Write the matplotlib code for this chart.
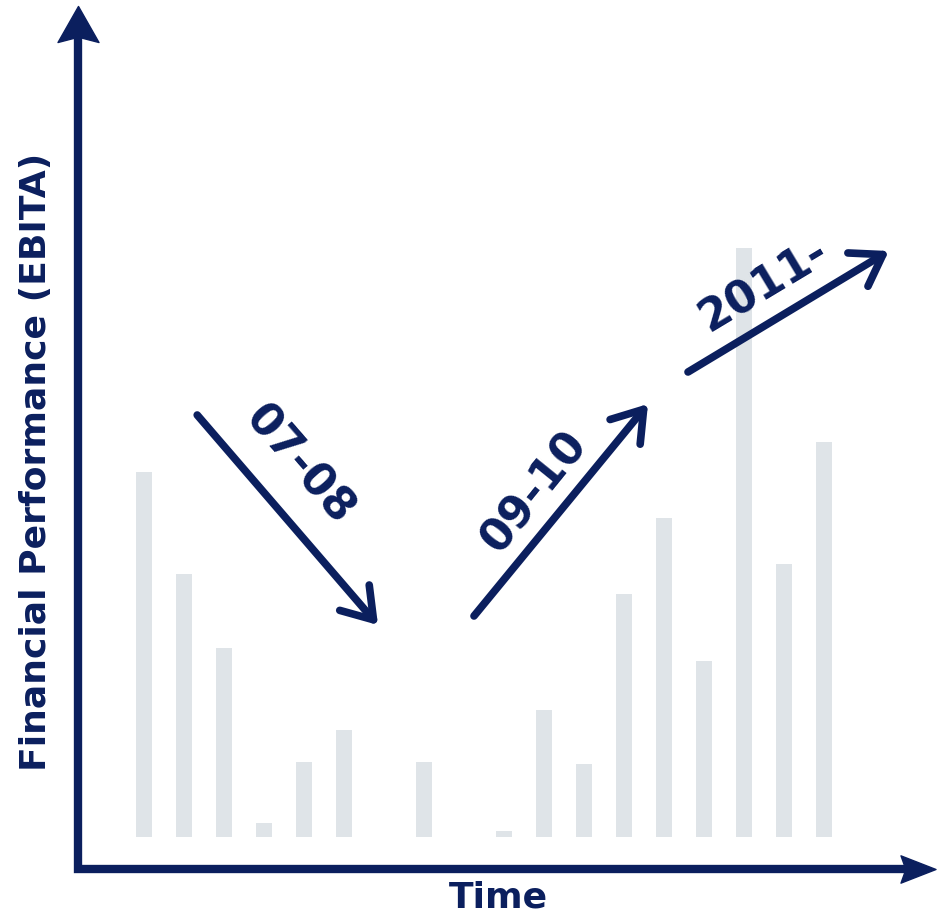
import numpy as np
import matplotlib
matplotlib.use('Agg')
import matplotlib.pyplot as plt
from matplotlib.path import Path

# EBITA per period (arbitrary units), one bar per slot
slots = np.arange(18)
ebita = [365, 263, 189, 14, 75, 107, 0, 75, 0, 6, 127, 73, 243, 319, 176, 589, 273, 395]

# trend arrows: (label, start, end) in slot / EBITA units
trends = [
	('07-08', (1.33, 422), (5.85, 212)),
	('09-10', (8.25, 221), (12.6, 433)),
	('2011-', (13.6, 465), (18.62, 586)),
]
label_pos = [(3.88, 372, -49), (9.76, 345, 51), (15.5, 552, 31)]

navy = '#0b1f5e'
grey = '#dfe4e8'

codes = [Path.MOVETO, Path.LINETO, Path.LINETO, Path.LINETO, Path.CLOSEPOLY]
# notched arrow heads for the two axes
head_up = Path([(0, 0.44), (0.5, -0.44), (0, -0.31), (-0.5, -0.44), (0, 0.44)], codes)
head_right = Path([(0.5, 0), (-0.5, 0.39), (-0.36, 0), (-0.5, -0.39), (0.5, 0)], codes)


def plot_ebita():

	fig = plt.figure(figsize=(9.43, 9.15), dpi=100)
	ax = fig.add_axes([0, 0, 1, 1])
	ax.set_xlim(-3.6, 19.975)
	ax.set_ylim(-78, 837)
	ax.axis('off')

	ax.bar(slots, ebita, width=0.42, color=grey, zorder=1)

	# axes drawn as one polyline with arrow heads
	x0, y0 = -1.65, -32
	ax.plot([x0, x0, 19.3], [815, y0, y0], color=navy, lw=6,
			solid_joinstyle='miter', solid_capstyle='butt', zorder=3)
	ax.plot([x0], [813], marker=head_up, markersize=29.5, color=navy, mec=navy, mew=1,
			ls='none', zorder=3)
	ax.plot([19.34], [y0], marker=head_right, markersize=25.2, color=navy, mec=navy, mew=1,
			ls='none', zorder=3)

	for (label, start, end), (tx, ty, rot) in zip(trends, label_pos):
		ax.annotate('', xy=end, xytext=start,
					arrowprops=dict(arrowstyle='->,head_length=1.05,head_width=0.7', lw=5.5,
									color=navy, mutation_scale=20, shrinkA=0, shrinkB=0,
									capstyle='round', joinstyle='round'))
		ax.text(tx, ty, label, rotation=rot, rotation_mode='anchor', ha='center', va='center',
				fontsize=32, fontweight='bold', color=navy)

	ax.text(8.85, -60, 'Time', ha='center', va='center', fontsize=26, fontweight='bold', color=navy)
	ax.text(-2.7, 375, 'Financial Performance (EBITA)', rotation=90, ha='center', va='center',
			fontsize=26, fontweight='bold', color=navy)

	fig.savefig('out.png', dpi=100)


if __name__ == "__main__":

	plot_ebita()
